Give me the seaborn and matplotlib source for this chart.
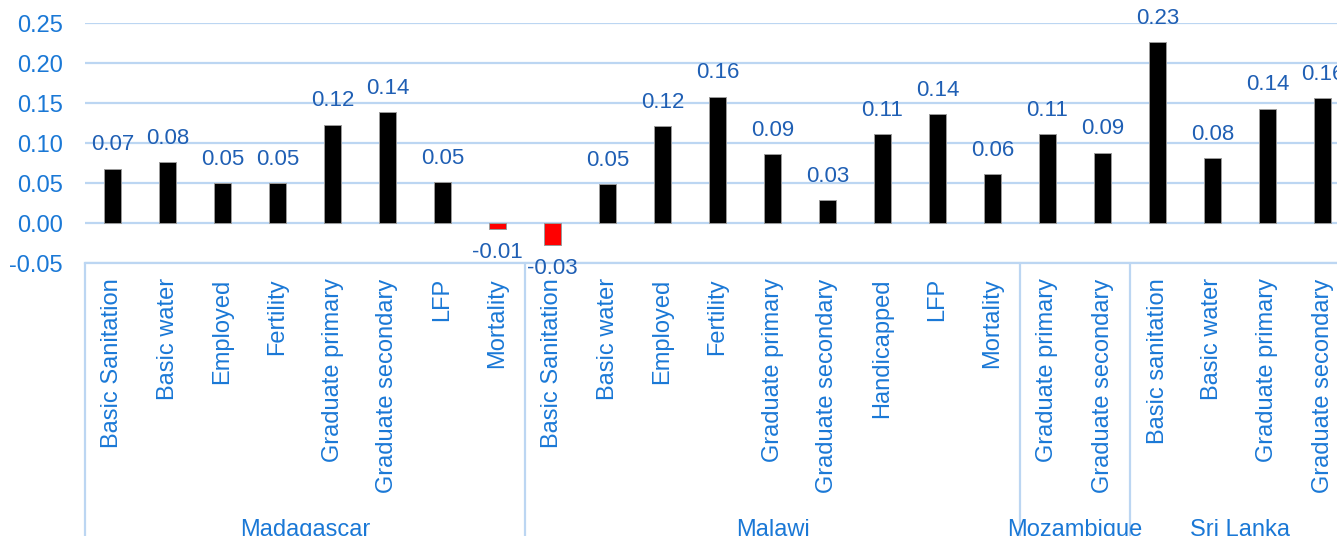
import numpy as np
import pandas as pd
import matplotlib.pyplot as plt
import matplotlib.transforms as mtransforms
import seaborn as sns

# dados =======================================================================
madagascar_ind = ['Basic Sanitation', 'Basic water', 'Employed', 'Fertility',
                  'Graduate primary', 'Graduate secondary', 'LFP', 'Mortality']
madagascar_val = [0.068, 0.076, 0.050, 0.050, 0.123, 0.139, 0.051, -0.007]

malawi_ind = ['Basic Sanitation', 'Basic water', 'Employed', 'Fertility',
              'Graduate primary', 'Graduate secondary', 'Handicapped', 'LFP',
              'Mortality']
malawi_val = [-0.027, 0.049, 0.121, 0.158, 0.086, 0.029, 0.111, 0.136, 0.061]

mozambique_ind = ['Graduate primary', 'Graduate secondary']
mozambique_val = [0.111, 0.088]

srilanka_ind = ['Basic sanitation', 'Basic water', 'Graduate primary',
                'Graduate secondary']
srilanka_val = [0.226, 0.081, 0.143, 0.156]

countries = ['Madagascar', 'Malawi', 'Mozambique', 'Sri Lanka']
indicators = [madagascar_ind, malawi_ind, mozambique_ind, srilanka_ind]
values = [madagascar_val, malawi_val, mozambique_val, srilanka_val]

rows = []
for c, inds, vals in zip(countries, indicators, values):
    for ind, v in zip(inds, vals):
        rows.append({'country': c, 'indicator': ind, 'value': v})
df = pd.DataFrame(rows)
df['key'] = df['country'] + '|' + df['indicator']
df['sign'] = np.where(df['value'] < 0, 'neg', 'pos')
n = len(df)

# estilo ======================================================================
sns.set_theme(style='white')
plt.rcParams['font.family'] = ['Liberation Sans', 'DejaVu Sans']

tick_blue = '#1a78d6'
label_blue = '#1f5fb4'
grid_blue = '#bcd6f2'

W, H = 1337, 536
fig = plt.figure(figsize=(W / 100, H / 100), dpi=100)
ax_left, ax_right, ax_top, ax_bot = 85, 1350, 23, 263
ax = fig.add_axes([ax_left / W, 1 - ax_bot / H, (ax_right - ax_left) / W,
                   (ax_bot - ax_top) / H])

sns.barplot(data=df, x='key', y='value', hue='sign', order=list(df['key']),
            palette={'pos': 'black', 'neg': '#ff0000'}, saturation=1,
            dodge=False, width=0.32, legend=False, ax=ax,
            edgecolor='#9a9a9a', linewidth=0.7)

ax.set_xlim(-0.5, n - 0.5)
ax.set_ylim(-0.05, 0.25)
ax.set_yticks(np.arange(-0.05, 0.2501, 0.05))
ax.set_yticklabels([f'{t:.2f}' for t in np.arange(-0.05, 0.2501, 0.05)])
ax.yaxis.grid(True, color=grid_blue, linewidth=1.6)
ax.set_axisbelow(True)
ax.tick_params(axis='y', length=0, pad=16, labelsize=17, labelcolor=tick_blue)
ax.tick_params(axis='x', length=0, pad=11, labelsize=17, labelcolor=tick_blue)
ax.set_xticks(range(n))
ax.set_xticklabels(df['indicator'], rotation=90, va='top', ha='center')
ax.set_xlabel('')
ax.set_ylabel('')
for s in ['top', 'right', 'left']:
    ax.spines[s].set_visible(False)
ax.spines['bottom'].set_color(grid_blue)
ax.spines['bottom'].set_linewidth(1.6)

# rótulos dos valores
for i, v in enumerate(df['value']):
    off = 17 if v >= 0 else -17
    ax.annotate(f'{v:.2f}', (i, v), xytext=(0, off), textcoords='offset points',
                ha='center', va='center', fontsize=16, color=label_blue,
                annotation_clip=False)

# separadores de grupos e nomes dos países
trans = mtransforms.blended_transform_factory(ax.transData, ax.transAxes)
depth = (H - ax_bot) / (ax_bot - ax_top)
bounds = [-0.5]
pos = -0.5
for inds in indicators:
    pos += len(inds)
    bounds.append(pos)
for b in bounds:
    ax.plot([b, b], [0, -depth - 0.05], transform=trans, color=grid_blue,
            linewidth=1.6, clip_on=False)
label_y = -(530 - ax_bot) / (ax_bot - ax_top)
for c, a, b in zip(countries, bounds[:-1], bounds[1:]):
    ax.text((a + b) / 2, label_y, c, transform=trans, ha='center', va='center',
            fontsize=17, color=tick_blue)

fig.savefig('out.png', dpi=100)
